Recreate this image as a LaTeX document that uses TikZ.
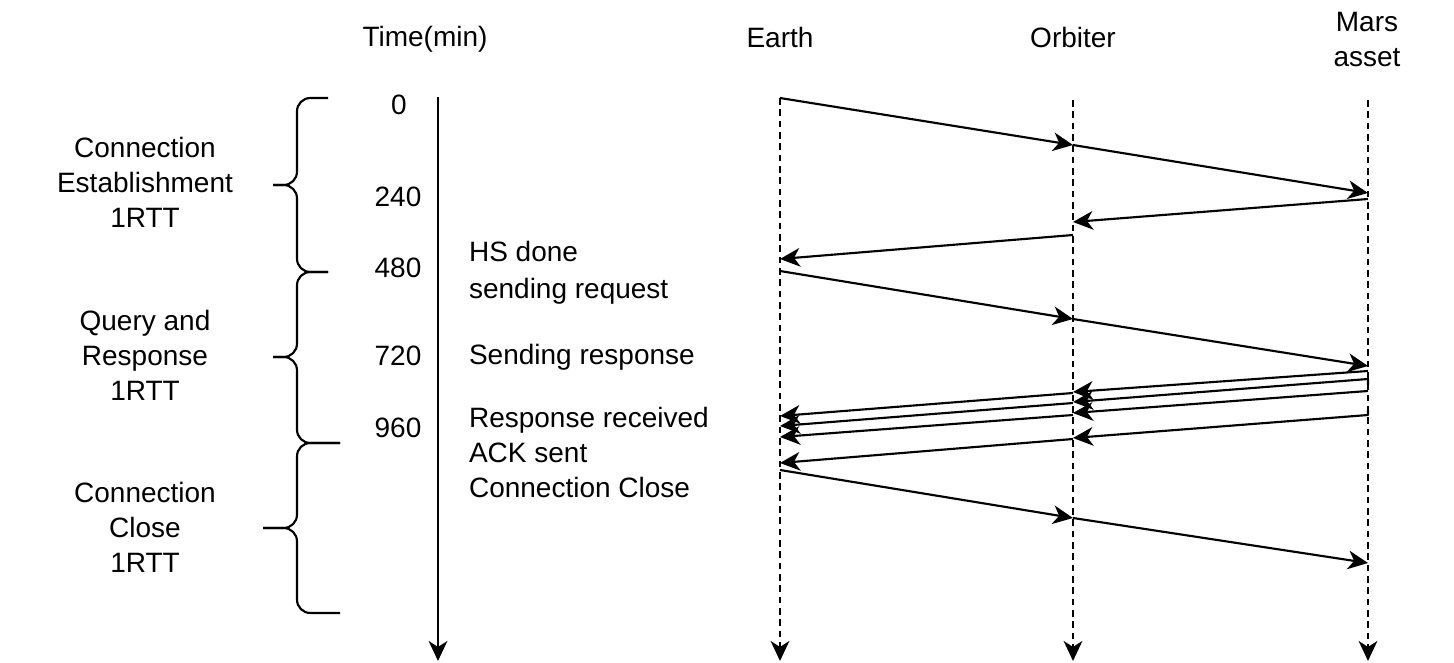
\documentclass[tikz,border=0pt]{standalone}
\usepackage{fontspec}
\setmainfont{Liberation Sans}
\usetikzlibrary{arrows.meta}
\begin{document}
\begin{tikzpicture}[x=0.75pt,y=-0.75pt,
  line width=1.6pt,
  >={Stealth[length=15pt,width=14pt,inset=4.5pt]},
  txt/.style={font=\fontsize{21}{25}\selectfont, inner sep=0pt, anchor=base},
  msg/.style={->, line join=round},
  life/.style={->, dash pattern=on 5pt off 3.5pt},
  curly/.style={rounded corners=10pt},
]
\useasboundingbox (0,0) rectangle (1454,663);

% ---- headers ----
\node[txt] (time)    at (425,47)  {Time(min)};
\node[txt] (earth)   at (780,48)  {Earth};
\node[txt] (orbiter) at (1073,48) {Orbiter};
\node[txt] (mars1)   at (1367,32) {Mars};
\node[txt] (mars2)   at (1367,67) {asset};

% ---- time axis ----
\coordinate (t0) at (438,97);
\coordinate (t1) at (438,661);
\draw[->] (t0) -- (t1);

\node[txt] (n0)   at (399,115) {0};
\node[txt] (n240) at (398,207) {240};
\node[txt] (n480) at (398,277) {480};
\node[txt] (n720) at (398,365) {720};
\node[txt] (n960) at (398,437) {960};

% ---- phase labels ----
\node[txt] (p1a) at (145,158) {Connection};
\node[txt] (p1b) at (145,193) {Establishment};
\node[txt] (p1c) at (145,228) {1RTT};
\node[txt] (p2a) at (145,330) {Query and};
\node[txt] (p2b) at (145,365) {Response};
\node[txt] (p2c) at (145,400) {1RTT};
\node[txt] (p3a) at (145,502) {Connection};
\node[txt] (p3b) at (145,537) {Close};
\node[txt] (p3c) at (145,572) {1RTT};

% ---- braces ----
\draw[curly] (328,98) -- (297,98) -- (297,185) -- (273,185);
\draw[curly] (273,185) -- (297,185) -- (297,272) -- (328,272);
\draw[curly] (328,272) -- (297,272) -- (297,357) -- (273,357);
\draw[curly] (273,357) -- (297,357) -- (297,443) -- (340,443);
\draw[curly] (340,443) -- (297,443) -- (297,528) -- (263,528);
\draw[curly] (263,528) -- (297,528) -- (297,613) -- (340,613);

% ---- event notes ----
\node[txt, anchor=base west] (hs)   at (468,262) {HS done};
\node[txt, anchor=base west] (req)  at (468,298) {sending request};
\node[txt, anchor=base west] (resp) at (468,364) {Sending response};
\node[txt, anchor=base west] (recv) at (468,427) {Response received};
\node[txt, anchor=base west] (ack)  at (468,462) {ACK sent};
\node[txt, anchor=base west] (cls)  at (468,497) {Connection Close};

% ---- lifelines ----
\coordinate (Etop) at (780,98);   \coordinate (Ebot) at (780,661);
\coordinate (Otop) at (1073,100); \coordinate (Obot) at (1073,661);
\coordinate (Mtop) at (1368,100); \coordinate (Mbot) at (1368,661);
\draw[life] (Etop) -- (Ebot);
\draw[life] (Otop) -- (Obot);
\draw[life] (Mtop) -- (Mbot);

% ---- message endpoints ----
\coordinate (E1) at (780,98);   \coordinate (O1) at (1073,145); \coordinate (M1) at (1368,193);
\coordinate (M2) at (1368,199); \coordinate (O2) at (1073,222);
\coordinate (O3) at (1073,235); \coordinate (E3) at (780,259);
\coordinate (E4) at (780,271);  \coordinate (O4) at (1073,319); \coordinate (M4) at (1368,366);
\coordinate (Ma) at (1368,371); \coordinate (Oa) at (1073,392);
\coordinate (Oa2) at (1073,393); \coordinate (Ea) at (780,416);
\coordinate (Mb0) at (1368,385); \coordinate (Mb) at (1368,379); \coordinate (Ob) at (1073,402);
\coordinate (Ob2) at (1073,403); \coordinate (Eb) at (780,426);
\coordinate (Mc) at (1368,391); \coordinate (Oc) at (1073,413);
\coordinate (Oc2) at (1073,415); \coordinate (Ec) at (780,437);
\coordinate (Md0) at (1368,410); \coordinate (Md) at (1368,415); \coordinate (Od) at (1073,438);
\coordinate (Od2) at (1073,439); \coordinate (Ed) at (780,463);
\coordinate (E7) at (780,470);  \coordinate (O7) at (1073,518); \coordinate (M7) at (1368,563);

% ---- handshake ----
\draw[msg] (E1) -- (O1);
\draw[msg] (O1) -- (M1);
\draw[msg] (M2) -- (O2);
\draw[msg] (O3) -- (E3);
% ---- request ----
\draw[msg] (E4) -- (O4);
\draw[msg] (O4) -- (M4);
% ---- response segments ----
\draw[msg] (Ma) -- (Oa);
\draw[msg] (Oa2) -- (Ea);
\draw[msg] (Mb0) -- (Mb) -- (Ob);
\draw[msg] (Ob2) -- (Eb);
\draw[msg] (Mc) -- (Oc);
\draw[msg] (Oc2) -- (Ec);
\draw[msg] (Md0) -- (Md) -- (Od);
\draw[msg] (Od2) -- (Ed);
% ---- close ----
\draw[msg] (E7) -- (O7);
\draw[msg] (O7) -- (M7);
\end{tikzpicture}
\end{document}
